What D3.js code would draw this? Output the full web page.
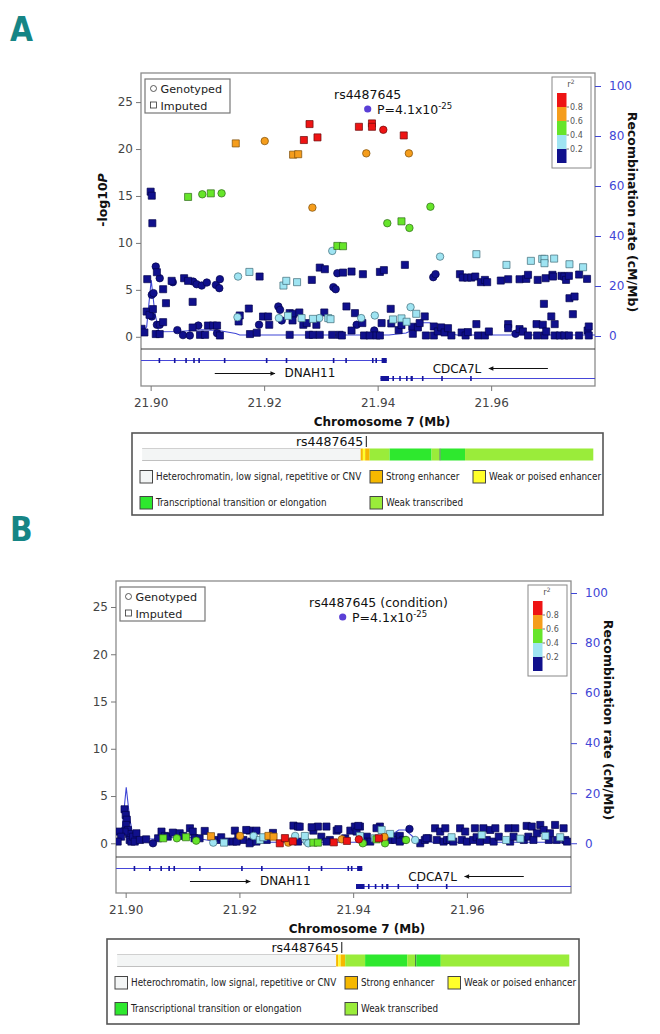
<!DOCTYPE html>
<html><head><meta charset="utf-8">
<script src="https://cdn.jsdelivr.net/npm/d3@7"></script>
<style>body{margin:0;background:#fff}svg{display:block}</style>
</head><body>
<svg id="c" width="660" height="1034"></svg>
<script>
// ---------------- DATA ----------------
const xTicks = [21.90, 21.92, 21.94, 21.96];
const yTicks = [0, 5, 10, 15, 20, 25];
const recTicks = [0, 20, 40, 60, 80, 100];
const ldBreaks = [0.2, 0.4, 0.6, 0.8];
const ldLabels = ["0.2", "0.4", "0.6", "0.8"];
const ldBins = [[0, 0.2], [0.2, 0.4], [0.4, 0.6], [0.6, 0.8], [0.8, 1.0]];
const leadP = "P=4.1x10";
const leadExp = "-25";
const snpName = "rs4487645";
const snpPos = 21.9380;

// recombination rate (cM/Mb) along the region [position Mb, rate]
const recombRate = [[21.8983,0.8],[21.8993,3.7],[21.9001,22.4],[21.9007,10],[21.9014,1.7],[21.9050,1.8],[21.9090,2.5],[21.9120,2.2],[21.9150,1.0],[21.9157,0.4],[21.9420,0.4],[21.9450,1.2],[21.9462,2.4],[21.9480,5.3],[21.9492,5.3],[21.9506,2.4],[21.9521,1.1],[21.9540,0.4],[21.9783,0.4]];

// SNPs panel A: [position Mb, -log10 P, "c"=genotyped / "s"=imputed, r2 class 0..4]
const snpsA = [
[21.9009,7.48,"c",0],[21.9016,6.24,"c",0],[21.9002,4.47,"c",0],[21.9005,4.65,"c",0],[21.9039,5.82,"c",0],[21.9075,5.88,"c",0],[21.9081,5.60,"c",0],[21.9090,5.46,"c",0],[21.9099,5.78,"c",0],[21.9115,5.53,"c",0],[21.9121,5.18,"c",0],[21.9122,6.14,"c",0],[21.9322,5.29,"c",0],[21.9326,5.07,"c",0],[21.9329,6.77,"c",0],[21.9498,6.35,"c",0],[21.9502,6.67,"c",0],
[21.9002,2.16,"c",0],[21.9011,1.28,"c",0],[21.9016,1.28,"c",0],[21.9047,0.71,"c",0],[21.9057,0.18,"c",0],[21.9069,0.14,"c",0],[21.9084,1.20,"c",0],[21.9117,0.39,"c",0],[21.9191,1.28,"c",0],[21.9225,3.23,"c",0],[21.9228,2.87,"c",0],[21.9231,1.74,"c",0],[21.9363,1.28,"c",0],[21.9394,0.67,"c",0],[21.9643,0.32,"c",0],
[21.9000,15.46,"s",0],[21.9002,15.03,"s",0],[21.9003,12.10,"s",0],[21.9011,6.88,"s",0],[21.8994,6.14,"s",0],[21.9022,5.07,"s",0],[21.9027,3.58,"s",0],[21.9037,5.96,"s",0],[21.9059,6.24,"s",0],[21.9066,5.96,"s",0],[21.9074,3.72,"s",0],[21.9192,6.42,"s",0],[21.9284,6.06,"s",0],[21.9298,7.37,"s",0],[21.9307,7.20,"s",0],[21.9339,6.84,"s",0],[21.9354,6.95,"s",0],[21.9374,6.67,"s",0],[21.9404,6.91,"s",0],[21.9411,7.10,"s",0],[21.9448,7.66,"s",0],[21.9545,6.67,"s",0],[21.9550,6.31,"s",0],[21.9558,6.31,"s",0],[21.9565,6.31,"s",0],[21.9572,6.42,"s",0],[21.9582,5.82,"s",0],[21.9589,6.06,"s",0],[21.9593,5.82,"s",0],[21.9617,5.99,"s",0],[21.9630,6.13,"s",0],[21.9650,6.13,"s",0],[21.9662,6.17,"s",0],[21.9665,6.60,"s",0],[21.9682,6.06,"s",0],[21.9696,6.24,"s",0],[21.9708,6.60,"s",0],[21.9709,6.42,"s",0],[21.9724,6.49,"s",0],[21.9729,6.42,"s",0],[21.9732,6.06,"s",0],[21.9737,6.49,"s",0],[21.9755,6.63,"s",0],[21.9769,6.17,"s",0],[21.9738,4.11,"s",0],[21.9747,4.29,"s",0],[21.9693,3.51,"s",0],[21.9744,2.41,"s",0],
[21.8984,0.85,"s",0],[21.8989,0.46,"s",0],[21.8993,2.69,"s",0],[21.8998,2.34,"s",0],[21.9004,2.95,"s",0],[21.9009,0.29,"s",0],[21.9016,0.29,"s",0],[21.9022,1.56,"s",0],[21.9074,0.99,"s",0],[21.9087,0.21,"s",0],[21.9096,0.21,"s",0],[21.9101,1.20,"s",0],[21.9110,1.20,"s",0],[21.9117,1.20,"s",0],[21.9122,0.14,"s",0],[21.9155,1.63,"s",0],[21.9157,2.27,"s",0],[21.9173,3.01,"s",0],[21.9175,0.29,"s",0],[21.9187,0.43,"s",0],[21.9198,2.16,"s",0],[21.9207,2.16,"s",0],[21.9209,1.28,"s",0],[21.9245,2.52,"s",0],[21.9251,2.45,"s",0],[21.9262,2.59,"s",0],[21.9245,0.21,"s",0],[21.9250,1.74,"s",0],[21.9269,1.28,"s",0],[21.9275,1.46,"s",0],[21.9279,0.21,"s",0],[21.9286,0.21,"s",0],[21.9292,1.28,"s",0],[21.9298,0.21,"s",0],[21.9306,2.59,"s",0],[21.9320,0.21,"s",0],[21.9333,0.21,"s",0],[21.9337,0.14,"s",0],[21.9345,3.23,"s",0],[21.9354,0.67,"s",0],[21.9360,2.52,"s",0],[21.9373,1.46,"s",0],[21.9376,0.14,"s",0],[21.9386,0.14,"s",0],[21.9398,0.14,"s",0],
[21.9404,0.14,"s",0],[21.9407,1.46,"s",0],[21.9423,2.98,"s",0],[21.9424,1.42,"s",0],[21.9437,0.71,"s",0],[21.9442,1.25,"s",0],[21.9461,1.07,"s",0],[21.9462,0.32,"s",0],[21.9471,1.00,"s",0],[21.9474,1.46,"s",0],[21.9483,2.17,"s",0],[21.9485,0.14,"s",0],[21.9499,1.10,"s",0],[21.9499,0.14,"s",0],[21.9506,0.57,"s",0],[21.9512,1.00,"s",0],[21.9518,0.46,"s",0],[21.9524,0.92,"s",0],[21.9530,0.14,"s",0],[21.9548,0.46,"s",0],[21.9555,0.14,"s",0],[21.9559,0.50,"s",0],[21.9574,1.35,"s",0],[21.9577,0.14,"s",0],[21.9589,0.14,"s",0],[21.9596,0.57,"s",0],[21.9630,1.35,"s",0],[21.9630,0.92,"s",0],[21.9650,0.82,"s",0],[21.9656,0.57,"s",0],[21.9665,0.14,"s",0],[21.9680,1.35,"s",0],[21.9681,0.14,"s",0],[21.9691,1.28,"s",0],[21.9694,0.14,"s",0],[21.9697,0.57,"s",0],[21.9706,2.17,"s",0],[21.9712,1.35,"s",0],[21.9712,0.14,"s",0],[21.9721,0.14,"s",0],[21.9729,0.14,"s",0],[21.9737,0.14,"s",0],[21.9755,0.14,"s",0],[21.9770,0.67,"s",0],[21.9772,0.14,"s",0],[21.9772,1.10,"s",0],
[21.9154,6.42,"c",1],[21.9153,2.09,"c",1],[21.9226,1.99,"c",1],[21.9297,1.99,"c",1],[21.9371,1.99,"c",1],[21.9395,2.27,"c",1],[21.9458,3.16,"c",1],[21.9510,8.54,"c",1],[21.9320,9.15,"c",1],
[21.9174,6.91,"s",1],[21.9234,5.46,"s",1],[21.9239,5.96,"s",1],[21.9258,5.82,"s",1],[21.9242,2.23,"s",1],[21.9266,1.99,"s",1],[21.9286,1.91,"s",1],[21.9313,1.99,"s",1],[21.9317,1.88,"s",1],[21.9427,1.85,"s",1],[21.9442,1.96,"s",1],[21.9451,1.60,"s",1],[21.9468,2.45,"s",1],[21.9574,8.80,"s",1],[21.9627,7.66,"s",1],[21.9670,8.09,"s",1],[21.9690,8.30,"s",1],[21.9694,8.30,"s",1],[21.9694,7.84,"s",1],[21.9711,8.33,"s",1],[21.9738,7.73,"s",1],[21.9762,7.41,"s",1],
[21.9091,15.18,"c",2],[21.9125,15.28,"c",2],[21.9493,13.86,"c",2],[21.9417,12.10,"c",2],[21.9456,11.60,"c",2],
[21.9066,14.90,"s",2],[21.9106,15.28,"s",2],[21.9442,12.30,"s",2],[21.9329,9.68,"s",2],[21.9339,9.65,"s",2],
[21.9201,20.85,"c",3],[21.9380,19.54,"c",3],[21.9455,19.54,"c",3],[21.9285,13.76,"c",3],
[21.9150,20.60,"s",3],[21.9251,19.40,"s",3],[21.9260,19.45,"s",3],
[21.9410,22.05,"c",4],
[21.9270,20.96,"s",4],[21.9280,22.66,"s",4],[21.9294,21.24,"s",4],[21.9367,22.37,"s",4],[21.9390,22.73,"s",4],[21.9390,22.37,"s",4],[21.9446,21.45,"s",4]
];

// SNPs panel B (conditional analysis)
const snpsB = [
[21.8998,3.6,"s",0],[21.9000,3.0,"s",0],[21.9002,2.5,"s",0],[21.9001,1.94,"s",0],[21.9004,1.41,"s",0],[21.9006,0.99,"s",0],[21.9007,0.35,"s",0],[21.8998,1.24,"s",0],[21.8989,1.24,"s",0],[21.8992,0.70,"s",0],[21.8986,0.18,"s",0],[21.9010,0.18,"s",0],[21.9013,0.70,"s",0],[21.9019,1.06,"s",0],[21.9016,0.18,"s",0],[21.9025,0.35,"s",0],[21.9036,0.42,"s",0],[21.9057,0.53,"s",0],[21.9063,1.24,"s",0],[21.9069,0.78,"s",0],[21.9074,0.70,"s",0],[21.9083,1.13,"s",0],[21.9095,1.06,"s",0],[21.9101,0.78,"s",0],[21.9113,1.59,"s",0],[21.9118,1.24,"s",0],[21.9121,0.53,"s",0],[21.9130,0.53,"s",0],[21.9139,1.31,"s",0],[21.9160,0.35,"s",0],[21.9168,0.64,"s",0],[21.9177,0.18,"s",0],[21.9189,0.18,"s",0],[21.9192,1.34,"s",0],[21.9198,0.70,"s",0],[21.9207,0.35,"s",0],[21.9218,1.34,"s",0],[21.9230,1.34,"s",0],[21.9221,0.18,"s",0],[21.9248,0.35,"s",0],[21.9295,1.87,"s",0],[21.9303,1.77,"s",0],[21.9330,1.34,"s",0],[21.9338,1.77,"s",0],[21.9344,0.70,"s",0],[21.9353,1.77,"s",0],[21.9359,0.35,"s",0],[21.9371,1.34,"s",0],[21.9395,1.34,"s",0],[21.9403,1.77,"s",0],[21.9406,1.24,"s",0],[21.9412,1.77,"s",0],[21.9424,0.70,"s",0],[21.9430,0.18,"s",0],[21.9447,1.77,"s",0],[21.9465,0.70,"s",0],[21.9477,0.70,"s",0],
[21.9465,0.35,"s",0],[21.9474,0.35,"s",0],[21.9482,0.78,"s",0],[21.9488,0.35,"s",0],[21.9518,0.00,"s",0],[21.9526,0.35,"s",0],[21.9532,0.53,"s",0],[21.9544,1.59,"s",0],[21.9547,0.35,"s",0],[21.9553,1.24,"s",0],[21.9559,0.18,"s",0],[21.9562,1.59,"s",0],[21.9565,0.35,"s",0],[21.9570,0.35,"s",0],[21.9576,0.18,"s",0],[21.9588,1.59,"s",0],[21.9591,0.35,"s",0],[21.9597,1.24,"s",0],[21.9600,0.18,"s",0],[21.9611,0.35,"s",0],[21.9614,1.59,"s",0],[21.9617,0.64,"s",0],[21.9623,0.18,"s",0],[21.9629,1.59,"s",0],[21.9635,0.35,"s",0],[21.9641,1.41,"s",0],[21.9650,1.59,"s",0],[21.9647,0.18,"s",0],[21.9656,0.70,"s",0],[21.9673,1.59,"s",0],[21.9676,0.18,"s",0],[21.9682,0.70,"s",0],[21.9685,1.59,"s",0],[21.9700,0.35,"s",0],[21.9705,1.84,"s",0],[21.9708,0.70,"s",0],[21.9714,1.77,"s",0],[21.9717,0.35,"s",0],[21.9723,1.06,"s",0],[21.9729,1.94,"s",0],[21.9735,1.41,"s",0],[21.9744,0.35,"s",0],[21.9746,1.06,"s",0],[21.9755,1.94,"s",0],[21.9758,0.35,"s",0],[21.9770,1.59,"s",0],[21.9773,0.35,"s",0],[21.9776,0.18,"s",0],
[21.9212,1.41,"s",0],[21.9259,1.10,"s",0],[21.9306,1.76,"s",0],[21.9327,1.70,"s",0],[21.9374,1.50,"s",0],[21.9409,1.84,"s",0],[21.9441,1.60,"s",0],[21.9195,0.18,"s",0],[21.9218,0.00,"s",0],[21.9230,0.18,"s",0],[21.9303,0.18,"s",0],[21.9353,0.18,"s",0],[21.9386,0.53,"s",0],[21.9418,0.18,"s",0],[21.9482,0.18,"s",0],[21.9529,0.53,"s",0],
[21.9048,0.00,"c",0],[21.9499,1.52,"c",0],
[21.9154,0.07,"c",1],[21.9225,0.78,"c",1],[21.9298,0.78,"c",1],[21.9318,0.18,"c",1],[21.9509,0.35,"c",1],[21.9321,0.00,"c",1],
[21.9173,0.07,"s",1],[21.9236,0.35,"s",1],[21.9242,0.64,"s",1],[21.9315,0.77,"s",1],[21.9412,0.78,"s",1],[21.9438,0.53,"s",1],[21.9450,1.41,"s",1],[21.9465,0.99,"s",1],[21.9573,0.64,"s",1],[21.9626,0.88,"s",1],[21.9669,0.35,"s",1],[21.9694,0.49,"s",1],[21.9738,0.78,"s",1],[21.9764,0.64,"s",1],
[21.9090,0.53,"c",2],[21.9124,0.28,"c",2],[21.9417,0.00,"c",2],[21.9456,0.00,"c",2],[21.9493,0.35,"c",2],
[21.9066,0.53,"s",2],[21.9106,0.64,"s",2],[21.9330,0.07,"s",2],[21.9338,0.07,"s",2],[21.9441,0.42,"s",2],
[21.9201,0.78,"c",3],[21.9286,0.07,"c",3],[21.9380,0.42,"c",3],[21.9455,0.67,"c",3],
[21.9150,0.75,"s",3],[21.9251,0.78,"s",3],[21.9260,0.70,"s",3],
[21.9410,0.42,"c",4],
[21.9271,0.00,"s",4],[21.9280,0.55,"s",4],[21.9294,0.20,"s",4],[21.9366,0.10,"s",4],[21.9389,0.25,"s",4],[21.9445,0.53,"s",4]
];

// genes: name, span, label position, arrow from/to (Mb), exons
const geneNames = ["DNAH11", "CDCA7L"];
const geneSpans = [[21.8983, 21.9416], [21.9405, 21.9783]];
const geneLabelPos = [21.9236, 21.9497];
const geneArrows = [[21.9113, 21.9219], [21.9700, 21.9596]];
const geneExons = [
  [[21.9014,21.9016],[21.9041,21.9043],[21.9061,21.9063],[21.9075,21.9077],[21.9084,21.9086],[21.9129,21.9131],[21.9203,21.9205],[21.9238,21.9240],[21.9321,21.9323],[21.9343,21.9345],[21.9390,21.9392],[21.9396,21.9398],[21.9407,21.9416]],
  [[21.9405,21.9420],[21.9426,21.9428],[21.9438,21.9440],[21.9450,21.9452],[21.9458,21.9462],[21.9478,21.9480],[21.9512,21.9514],[21.9563,21.9565]]
];

// chromatin states: [start, end, state]
const chromStates = [[21.8985,21.9370,"het"],[21.9370,21.9374,"strong"],[21.9374,21.9378,"weakEnh"],[21.9378,21.9386,"strong"],[21.9386,21.9421,"weakTx"],[21.9421,21.9495,"trans"],[21.9495,21.9509,"weakTx"],[21.9509,21.9511,"edge"],[21.9511,21.9554,"trans"],[21.9554,21.9780,"weakTx"]];
const chromLegendKeys = ["het", "strong", "weakEnh", "trans", "weakTx"];
const chromLegendText = ["Heterochromatin, low signal, repetitive or CNV", "Strong enhancer", "Weak or poised enhancer", "Transcriptional transition or elongation", "Weak transcribed"];

// ---------------- STYLE / LAYOUT ----------------
const ldColors = ["#10108c", "#9fe4f2", "#66e52a", "#f59d1c", "#ee1414"];
const ldStroke = ["#05054d", "#3f6b78", "#2e6a18", "#7a4c08", "#6a0808"];
const chromColors = {het:"#f3f5f5", strong:"#f5b800", weakEnh:"#ffff2a", trans:"#2ee82e", weakTx:"#9aec3a", edge:"#2f6a2f"};
const recColor = "#3f46d6";
const font = "'DejaVu Sans', sans-serif";
const xDomain = [21.8983, 21.9783];

const layoutA = {left:141, top:73, width:454, height:276, geneH:37, yDomain:[-1.3,28.1], rDomain:[-5.2,105.2], letter:"A", letterY:41, title:"rs4487645", yLabel:true, chrom:{dx:-9, dy:47, w:471, h:82}};
const layoutB = {left:116, top:581, width:455, height:276, geneH:36, yDomain:[-1.45,27.75], rDomain:[-5.5,104.8], letter:"B", letterY:541, title:"rs4487645 (condition)", yLabel:false, chrom:{dx:-9, dy:46, w:472, h:85}};

const svg = d3.select("#c");
const defs = svg.append("defs");
defs.append("marker").attr("id","arr").attr("viewBox","0 0 10 10").attr("refX",9).attr("refY",5)
  .attr("markerWidth",8).attr("markerHeight",5).attr("orient","auto")
  .append("path").attr("d","M0,0.5L10,5L0,9.5Z").attr("fill","#111");

function drawPanel(L, snps) {
  const g = svg.append("g");
  const x = d3.scaleLinear().domain(xDomain).range([L.left, L.left + L.width]);
  const bottom = L.top + L.height;
  const y = d3.scaleLinear().domain(L.yDomain).range([bottom, L.top]);
  const yr = d3.scaleLinear().domain(L.rDomain).range([bottom, L.top]);
  const geneBottom = bottom + L.geneH;

  g.append("text").attr("x", 10).attr("y", L.letterY).text(L.letter)
    .attr("fill", "#168585").style("font-family", "'Liberation Sans Narrow','DejaVu Sans Condensed',sans-serif")
    .style("font-weight", "bold").style("font-size", "33px");

  const cid = "clip" + L.letter;
  defs.append("clipPath").attr("id", cid).append("rect")
    .attr("x", L.left).attr("y", L.top).attr("width", L.width).attr("height", L.height);

  g.append("rect").attr("x", L.left).attr("y", L.top).attr("width", L.width).attr("height", L.height + L.geneH)
    .attr("fill", "none").attr("stroke", "#8c8c8c").attr("stroke-width", 1.3);
  g.append("line").attr("x1", L.left).attr("x2", L.left + L.width).attr("y1", bottom).attr("y2", bottom)
    .attr("stroke", "#3a3a3a").attr("stroke-width", 1.2);

  const ga = g.append("g").attr("transform", `translate(${L.left},0)`)
    .call(d3.axisLeft(y).tickValues(yTicks).tickSize(5).tickPadding(3));
  ga.select(".domain").remove();
  ga.selectAll("line").attr("stroke", "#777");
  ga.selectAll("text").attr("fill", "#444").style("font-family", font).style("font-size", "12px");

  const gr = g.append("g").attr("transform", `translate(${L.left + L.width},0)`)
    .call(d3.axisRight(yr).tickValues(recTicks).tickSize(6).tickPadding(8));
  gr.select(".domain").remove();
  gr.selectAll("line").attr("stroke", recColor);
  gr.selectAll("text").attr("fill", recColor).style("font-family", font).style("font-size", "12px");

  const gx = g.append("g").attr("transform", `translate(0,${geneBottom})`)
    .call(d3.axisBottom(x).tickValues(xTicks).tickFormat(d3.format(".2f")).tickSize(5).tickPadding(7));
  gx.select(".domain").remove();
  gx.selectAll("line").attr("stroke", "#777");
  gx.selectAll("text").attr("fill", "#444").style("font-family", font).style("font-size", "12px");

  g.append("text").attr("x", L.left + 241).attr("y", geneBottom + 40).attr("text-anchor", "middle")
    .text("Chromosome 7 (Mb)").style("font-family", font).style("font-weight", "bold").style("font-size", "12px").attr("fill", "#111");

  if (L.yLabel) {
    const t = g.append("text").attr("transform", `translate(${L.left - 34},${L.top + 127}) rotate(-90)`)
      .attr("text-anchor", "middle").style("font-family", font).style("font-weight", "bold").style("font-size", "12.5px").attr("fill", "#111");
    t.append("tspan").text("-log10");
    t.append("tspan").text("P").style("font-style", "italic");
  }
  g.append("text").attr("transform", `translate(${L.left + L.width + 33},${L.top + 139}) rotate(90)`)
    .attr("text-anchor", "middle").text("Recombination rate (cM/Mb)")
    .style("font-family", font).style("font-weight", "bold").style("font-size", "12.5px").attr("fill", "#111");

  const plot = g.append("g").attr("clip-path", `url(#${cid})`);
  plot.append("path").datum(recombRate)
    .attr("d", d3.line().x(d => x(d[0])).y(d => yr(d[1])))
    .attr("fill", "none").attr("stroke", recColor).attr("stroke-width", 1.1);
  const ordered = snps.slice().sort((a, b) => a[3] - b[3]);
  plot.selectAll("path.snp").data(ordered).join("path").attr("class", "snp")
    .attr("transform", d => `translate(${x(d[0])},${y(d[1])})`)
    .attr("d", d => d3.symbol().type(d[2] === "c" ? d3.symbolCircle : d3.symbolSquare).size(d[2] === "c" ? 44 : 50)())
    .attr("fill", d => ldColors[d[3]]).attr("stroke", d => ldStroke[d[3]]).attr("stroke-width", 0.7);

  g.append("text").attr("x", L.left + 193).attr("y", L.top + 25.5).text(L.title)
    .style("font-family", font).style("font-size", "12.5px").attr("fill", "#111");
  g.append("circle").attr("cx", L.left + 226.7).attr("cy", L.top + 36).attr("r", 3.6).attr("fill", "#5a3fd6");
  const pt = g.append("text").attr("x", L.left + 236).attr("y", L.top + 40.5)
    .style("font-family", font).style("font-size", "12.5px").attr("fill", "#111");
  pt.append("tspan").text(leadP);
  pt.append("tspan").attr("dy", -5).style("font-size", "8.5px").text(leadExp);

  const lg = g.append("g").attr("transform", `translate(${L.left + 4},${L.top + 6})`);
  lg.append("rect").attr("width", 85).attr("height", 34).attr("fill", "#fff").attr("stroke", "#777").attr("stroke-width", 1.2);
  lg.append("circle").attr("cx", 8.5).attr("cy", 9.5).attr("r", 3).attr("fill", "none").attr("stroke", "#333").attr("stroke-width", 0.8);
  lg.append("rect").attr("x", 5.5).attr("y", 23).attr("width", 6).attr("height", 6).attr("fill", "none").attr("stroke", "#333").attr("stroke-width", 0.8);
  lg.append("text").attr("x", 15.5).attr("y", 13.5).text("Genotyped").style("font-family", font).style("font-size", "11.2px").attr("fill", "#222");
  lg.append("text").attr("x", 15.5).attr("y", 30.5).text("Imputed").style("font-family", font).style("font-size", "11.2px").attr("fill", "#222");

  const rx = L.left + L.width - 43, ry = L.top + 4;
  const rg = g.append("g");
  rg.append("rect").attr("x", rx).attr("y", ry).attr("width", 39).attr("height", 91).attr("fill", "#fff").attr("stroke", "#888");
  const rt = rg.append("text").attr("x", rx + 19).attr("y", ry + 10).attr("text-anchor", "middle")
    .style("font-family", font).style("font-size", "8.5px").attr("fill", "#555");
  rt.append("tspan").text("r");
  rt.append("tspan").attr("dy", -3).style("font-size", "6px").text("2");
  const cy = d3.scaleLinear().domain([0, 1]).range([ry + 86, ry + 16]);
  rg.selectAll("rect.bin").data(ldBins).join("rect").attr("class", "bin")
    .attr("x", rx + 5).attr("width", 9.5).attr("y", d => cy(d[1])).attr("height", d => cy(d[0]) - cy(d[1]))
    .attr("fill", (d, i) => ldColors[i]);
  rg.selectAll("line.tk").data(ldBreaks).join("line").attr("class", "tk")
    .attr("x1", rx + 14.5).attr("x2", rx + 17).attr("y1", d => cy(d)).attr("y2", d => cy(d)).attr("stroke", "#777");
  rg.selectAll("text.tl").data(ldBreaks).join("text").attr("class", "tl")
    .attr("x", rx + 18).attr("y", d => cy(d) + 3).text((d, i) => ldLabels[i])
    .style("font-family", font).style("font-size", "8px").attr("fill", "#555");

  const rowY = [bottom + 11.5, bottom + 29.5];
  const labelY = [bottom + 28, bottom + 24];
  const arrowY = [bottom + 24.5, bottom + 19.5];
  geneNames.forEach((name, i) => {
    const s = Math.max(geneSpans[i][0], xDomain[0]), e = Math.min(geneSpans[i][1], xDomain[1]);
    g.append("line").attr("x1", x(s)).attr("x2", x(e)).attr("y1", rowY[i]).attr("y2", rowY[i])
      .attr("stroke", "#4646d8").attr("stroke-width", 1.2);
    g.selectAll(null).data(geneExons[i]).join("rect")
      .attr("x", d => x(d[0])).attr("width", d => Math.max(1.6, x(d[1]) - x(d[0])))
      .attr("y", rowY[i] - 2.5).attr("height", 5).attr("fill", "#14149a");
    g.append("line").attr("x1", x(geneArrows[i][0])).attr("x2", x(geneArrows[i][1]))
      .attr("y1", arrowY[i]).attr("y2", arrowY[i]).attr("stroke", "#111").attr("stroke-width", 1).attr("marker-end", "url(#arr)");
    g.append("text").attr("x", x(geneLabelPos[i])).attr("y", labelY[i]).text(name)
      .style("font-family", font).style("font-size", "12px").attr("fill", "#111");
  });

  const cbx = L.left + L.chrom.dx, cby = bottom + L.geneH + L.chrom.dy;
  const cb = g.append("g");
  cb.append("rect").attr("x", cbx).attr("y", cby).attr("width", L.chrom.w).attr("height", L.chrom.h)
    .attr("fill", "#fff").attr("stroke", "#555").attr("stroke-width", 1.6);
  const barY = cby + 15.5, barH = 12;
  cb.selectAll("rect.cs").data(chromStates).join("rect").attr("class", "cs")
    .attr("x", d => x(d[0])).attr("width", d => x(d[1]) - x(d[0])).attr("y", barY).attr("height", barH)
    .attr("fill", d => chromColors[d[2]]);
  cb.append("line").attr("x1", x(chromStates[0][0])).attr("x2", x(chromStates[0][1])).attr("y1", barY).attr("y2", barY).attr("stroke", "#d0d0d0");
  cb.append("line").attr("x1", x(chromStates[0][0])).attr("x2", x(chromStates[0][1])).attr("y1", barY + barH).attr("y2", barY + barH).attr("stroke", "#c0c0c0");
  cb.append("text").attr("x", x(snpPos) - 3).attr("y", cby + 13).attr("text-anchor", "end").text(snpName)
    .style("font-family", font).style("font-size", "12.5px").attr("fill", "#111");
  cb.append("line").attr("x1", x(snpPos)).attr("x2", x(snpPos)).attr("y1", cby + 3).attr("y2", cby + 14)
    .attr("stroke", "#111").attr("stroke-width", 1);
  const colX = [8, 238, 341], rowOff = [44, 70];
  chromLegendKeys.forEach((k, i) => {
    const cx = cbx + colX[i < 3 ? i : i - 3], yy = cby + rowOff[i < 3 ? 0 : 1];
    cb.append("rect").attr("x", cx).attr("y", yy - 6.5).attr("width", 12.5).attr("height", 12.5)
      .attr("fill", chromColors[k]).attr("stroke", "#444").attr("stroke-width", 1);
    cb.append("text").attr("x", cx + 16).attr("y", yy + 3).text(chromLegendText[i])
      .style("font-family", "'DejaVu Sans Condensed','DejaVu Sans',sans-serif").style("font-size", "9.8px").attr("fill", "#222");
  });
}

drawPanel(layoutA, snpsA);
drawPanel(layoutB, snpsB);
</script>
</body></html>
